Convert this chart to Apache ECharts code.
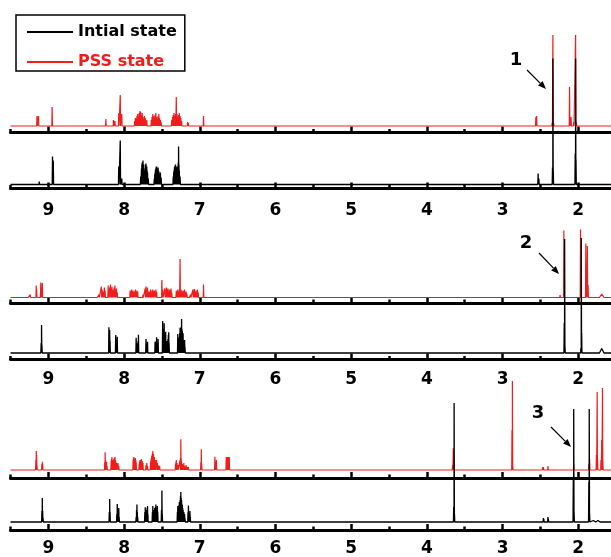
<!DOCTYPE html>
<html><head><meta charset="utf-8">
<script src="https://cdn.jsdelivr.net/npm/echarts@6/dist/echarts.min.js"></script>
<style>html,body{margin:0;padding:0;background:#fff}#c{width:611px;height:557px}</style>
</head><body><div id="c"></div>
<script>
// ---- data (ppm, intensity; optional 3rd value = half line width in ppm) ----
const TICKS = [2, 3, 4, 5, 6, 7, 8, 9];
const MINOR_TICKS = [1.5, 2.5, 3.5, 4.5, 5.5, 6.5, 7.5, 8.5, 9.5];
const SERIES_NAMES = ['Intial state', 'PSS state'];
const LABELS = ['1', '2', '3'];

const pss1 = [[9.15,10],[9.13,10],[8.95,19],[8.24,7],[8.14,6],[8.12,5],[8.07,13],[8.05,31],[8.03,12],
[7.86,5],[7.85,8],[7.84,7],[7.83,10],[7.82,12],[7.81,9],[7.80,13],[7.79,15],[7.78,14],[7.77,11],[7.76,13],[7.75,9],[7.74,7],[7.73,10],[7.72,8],[7.71,5],[7.70,6],
[7.64,6],[7.63,9],[7.62,12],[7.61,10],[7.60,8],[7.59,11],[7.58,13],[7.57,9],[7.56,7],[7.55,10],[7.54,12],[7.53,8],[7.52,6],[7.51,4],
[7.37,6],[7.36,9],[7.35,11],[7.34,13],[7.33,10],[7.32,12],[7.31,29],[7.30,12],[7.29,9],[7.28,11],[7.27,13],[7.26,10],[7.25,8],[7.24,5],
[7.16,4],[7.15,3],[6.95,10],[6.79,2],
[2.56,9],[2.55,10],[2.345,3],[2.335,91],[2.325,3],[2.115,39],[2.105,9],[2.095,9],[2.06,4],[2.035,91],[2.025,4]];

const initial1 = [[9.12,3],[8.945,28],[8.935,24],[8.07,18],[8.05,44],[8.03,6],
[7.78,8],[7.77,16],[7.765,20],[7.76,22],[7.755,18],[7.75,24],[7.745,19],[7.74,20],[7.735,14],[7.73,10],[7.725,14],[7.72,16],[7.715,20],[7.71,21],[7.705,17],[7.70,18],[7.695,14],[7.69,12],[7.68,6],
[7.60,6],[7.595,10],[7.59,12],[7.585,15],[7.58,16],[7.575,18],[7.57,18],[7.565,15],[7.56,14],[7.555,16],[7.55,17],[7.545,14],[7.54,13],[7.53,9],[7.52,12],[7.51,7],
[7.35,8],[7.345,12],[7.34,14],[7.335,17],[7.33,18],[7.325,19],[7.32,20],[7.315,17],[7.31,16],[7.305,17],[7.30,18],[7.295,16],[7.29,15],[7.285,22],[7.28,38],[7.275,20],[7.27,14],[7.26,8],
[6.76,2],
[2.53,11],[2.52,6],[2.34,17],[2.335,126],[2.33,15],[2.15,1.5,0.02],[2.04,31],[2.035,126],[2.03,25],[1.83,1.5,0.02]];

const pss2 = [[9.26,2],[9.24,3],[9.22,2],[9.16,12],[9.155,8],[9.10,15],[9.09,6],[9.08,14.5],
[8.30,11],[8.29,8],[8.28,5],[8.27,6],[8.26,10],[8.25,7],
[8.21,12],[8.20,8],[8.19,10],[8.18,13],[8.17,9],[8.16,11],[8.15,7],[8.14,8],[8.13,10],[8.12,12],[8.11,7],[8.10,9],[8.09,5],
[7.92,7],[7.91,5],[7.90,8],[7.89,6],[7.88,7],[7.86,6],[7.85,8],[7.84,5],[7.83,7],[7.82,6],
[7.72,9],[7.71,11],[7.70,7],[7.69,10],[7.68,6],
[7.66,6],[7.65,8],[7.64,5],[7.63,7],[7.62,8],[7.61,6],[7.60,7],[7.59,5],[7.58,8],[7.57,6],
[7.50,17.5],[7.49,8],[7.46,9],[7.45,7],[7.44,10],[7.43,8],[7.42,9],[7.41,6],[7.40,8],[7.39,7],[7.38,9],[7.37,5],
[7.31,7],[7.30,5],[7.29,8],[7.28,6],[7.27,7],[7.26,38.5],[7.25,8],[7.24,7],[7.23,5],[7.22,7],[7.21,6],[7.20,8],[7.19,5],[7.18,6],[7.17,4],
[7.09,8],[7.08,6],[7.07,8.5],[7.06,5],[7.05,7],[7.04,6],[7.03,8],[7.02,5],
[6.95,13],
[2.19,67],[2.185,8],[1.97,68],[1.965,6],[1.90,54],[1.89,20],[1.88,51.5],[1.87,12.5],[1.69,3.5,0.03]];

const pss2Noise = [[9.45,1],[9.38,1.5],[9.32,1],[9.02,1],[8.96,1.5],[8.90,1],[8.84,1.5],[8.77,1],[8.71,2],[8.64,1],[8.58,1.5],[8.52,1],[8.46,1.5],[8.41,1],[8.35,2],[8.33,3],
[8.02,2],[7.98,1.5],[7.95,2],[7.78,2],[7.75,3],[7.54,2],[7.35,2],[7.14,2],[7.12,3],[6.99,1.5],[6.90,1.5],[6.86,1],[6.81,2],[6.76,1],[6.70,1.5],[6.63,1],[6.58,2],[6.51,1],
[6.45,1.5],[6.39,1],[6.31,2],[6.24,1],[6.18,1.5],[6.09,1],[6.03,1.5],[5.97,1],[5.88,2],[5.81,1],[5.75,1.5],[5.66,1],[5.59,2],[5.53,1],[5.44,1.5],[5.36,1],[5.30,1.5],
[5.23,2],[5.15,1],[5.09,1.5],[5.03,1],[4.95,2],[4.86,1],[4.80,1.5],[4.74,1],[4.66,2],[4.57,1],[4.51,1.5],[4.45,1],[4.37,1.5],[4.30,2],[4.22,1],[4.16,1.5],[4.09,1],
[4.01,1.5],[3.95,1],[3.88,2],[3.80,1],[3.74,1.5],[3.67,1],[3.59,1.5],[3.52,2],[3.44,1],[3.38,1.5],[3.31,1],[3.24,2],[3.16,1],[3.10,1.5],[3.03,1],[2.96,1.5],[2.89,2],
[2.82,1],[2.75,1.5],[2.68,1],[2.61,2],[2.54,1],[2.47,1.5],[2.40,1],[2.33,1.5],[2.27,2],[2.24,2.5],[2.08,1],[2.04,1.5],[1.80,1.5],[1.75,1],[1.62,1],[1.57,1.5]];

const initial2 = [[9.35,1.5],[9.15,1.5],[9.095,10],[9.09,28],[9.085,8],
[8.20,25.7],[8.195,14],[8.19,23],[8.185,12],
[8.11,18],[8.105,12],[8.10,10],[8.095,14],[8.09,16.3],
[7.84,15.3],[7.835,10],[7.825,8],[7.815,12],[7.81,18.3],
[7.71,14],[7.705,9],[7.70,6],[7.695,9],[7.69,11.3],
[7.59,11.3],[7.585,7],[7.58,6],[7.575,12],[7.57,15.7],[7.56,8],[7.555,10],[7.55,14],
[7.49,32],[7.485,20],[7.48,14],[7.475,24],[7.47,29.7],[7.465,16],[7.46,18],[7.455,14],[7.45,21.3],[7.44,10],[7.43,12],[7.42,14],[7.415,18],[7.41,20.7],[7.405,10],
[7.29,19],[7.285,12],[7.28,10],[7.275,14],[7.27,16],[7.265,20],[7.26,25.3],[7.255,18],[7.25,20],[7.245,26],[7.24,34],[7.235,24],[7.23,22],[7.225,18],[7.22,19.7],[7.215,12],[7.21,10],[7.205,11],[7.20,13],[7.195,6],
[2.70,1],[2.66,1.5],[2.63,1],
[2.185,30],[2.18,114],[2.175,6],[1.965,5],[1.96,115],[1.955,20],[1.69,4.5,0.03]];

const pss3 = [[9.165,10],[9.16,19],[9.155,15],[9.15,5],[9.085,6],[9.08,8.3],[9.075,6],[8.78,1],
[8.255,8],[8.25,17.7],[8.245,10],[8.24,6],[8.235,5],[8.23,8.3],[8.225,4],
[8.17,9],[8.165,11],[8.16,13],[8.155,8],[8.15,10],[8.14,8],[8.135,11],[8.13,12],[8.12,13],[8.115,10],[8.11,9],[8.10,7],[8.08,7],[8.07,4],
[7.88,10],[7.875,12],[7.87,13],[7.865,9],[7.86,11],[7.855,8],[7.85,12],[7.845,10],[7.84,8],
[7.80,6],[7.795,8],[7.79,10],[7.785,7],[7.78,8],[7.775,10],[7.77,11],[7.765,7],[7.76,9],[7.75,7],
[7.71,5],[7.70,7],[7.69,4],
[7.65,8],[7.645,10],[7.64,12],[7.635,14],[7.63,15],[7.625,17],[7.62,19],[7.615,15],[7.61,16],[7.605,12],[7.60,13],[7.595,9],[7.59,10],
[7.57,10],[7.565,6],[7.56,7],[7.55,5],[7.53,4],
[7.32,6],[7.315,8],[7.31,10],[7.305,6],[7.30,7],[7.29,5],
[7.26,10],[7.255,12],[7.25,30.7],[7.245,11],[7.24,8],[7.235,6],
[7.23,6],[7.22,5],[7.21,7],[7.20,4],[7.19,3],[7.18,5],[7.17,3],[7.15,3],
[6.985,8],[6.98,20.7],[6.975,6],
[6.80,13.3],[6.795,8],[6.79,6],[6.785,8],[6.78,10],
[6.65,13],[6.645,13],[6.64,13],[6.625,13],[6.62,13],[6.615,13],[6.61,13],
[3.66,5],[3.65,21.7],[3.645,6],
[2.875,40],[2.87,89],[2.865,4],
[2.47,2.7],[2.46,3],[2.40,4],[2.06,6],
[1.86,6],[1.85,11],
[1.76,15],[1.75,78],[1.745,10],
[1.70,10],[1.69,30],[1.68,82],[1.675,8]];

const initial3 = [[9.085,11],[9.08,24],[9.075,11],[9.07,4],[8.78,1],
[8.195,10],[8.19,23],[8.185,10],
[8.095,8],[8.09,18],[8.085,10],[8.08,10],[8.075,12],[8.07,14],[8.065,5],
[7.84,5],[7.835,12],[7.83,17.5],[7.825,10],[7.82,5],
[7.725,10],[7.72,14.8],[7.715,10],[7.71,10],[7.705,12],[7.70,12],[7.695,14],[7.69,16],[7.685,8],
[7.625,10],[7.62,16],[7.615,12],[7.61,10],[7.605,12],[7.60,12],[7.595,14],[7.59,14],[7.585,15],[7.58,17.5],[7.575,14],[7.57,12],[7.565,13],[7.56,16],[7.555,10],
[7.505,12],[7.50,31.5],[7.495,8],
[7.295,10],[7.29,16],[7.285,12],[7.28,12],[7.275,17],[7.27,20],[7.265,18],[7.26,22],[7.255,26],[7.25,30],[7.245,24],[7.24,22],[7.235,18],[7.23,17],[7.225,14],[7.22,12],[7.215,9],[7.21,10],[7.205,7],[7.20,8],[7.195,4],
[7.155,10],[7.15,16.5],[7.145,8],[7.14,8],[7.135,9],[7.13,11],[7.125,5],
[6.93,1],
[3.645,15],[3.64,119],[3.635,8],
[2.46,4],[2.455,3],[2.40,5],[2.395,3],
[2.065,45],[2.06,113],[2.055,10],
[1.86,40],[1.855,113],[1.85,8],
[1.80,1.5,0.03],[1.74,1.5,0.03]];

// ---- build ----
const RED = '#f21c1c', BLACK = '#000';
const X_MIN = 1.5, X_MAX = 9.5;
function spectrum(peaks) {
  const s = peaks.slice().sort((a, b) => b[0] - a[0]);
  const pts = [[X_MAX, 0]];
  s.forEach(p => { const w = p[2] || 0.004; pts.push([p[0] + w, 0], [p[0], p[1]], [p[0] - w, 0]); });
  pts.push([X_MIN, 0]);
  return pts;
}
const spectra = [
  {data: pss1, name: SERIES_NAMES[1], color: RED},
  {data: initial1, name: SERIES_NAMES[0], color: BLACK},
  {data: pss2.concat(pss2Noise), name: SERIES_NAMES[1], color: RED},
  {data: initial2, name: SERIES_NAMES[0], color: BLACK},
  {data: pss3, name: SERIES_NAMES[1], color: RED},
  {data: initial3, name: SERIES_NAMES[0], color: BLACK}
];
const layout = [
  {axisY: 132.5, base: 126, top: 25},
  {axisY: 188.5, base: 184.5, top: 45, margin: 14},
  {axisY: 303, base: 297.5, top: 215},
  {axisY: 359.5, base: 353, top: 225, margin: 12},
  {axisY: 478, base: 470, top: 370},
  {axisY: 530, base: 522, top: 395, margin: 10}
];
const PX_PER_PPM = 75.7, LEFT = 10.5;
const grids = [], xAxes = [], yAxes = [], series = [];
layout.forEach((L, i) => {
  grids.push({left: LEFT, width: (X_MAX - X_MIN) * PX_PER_PPM, top: L.top, height: L.axisY - L.top,
    containLabel: false, outerBoundsMode: 'none'});
  const showLab = L.margin !== undefined;
  xAxes.push({gridIndex: i, type: 'value', inverse: true, min: X_MIN, max: X_MAX, position: 'bottom',
    axisLine: {onZero: false, lineStyle: {color: '#000', width: 3}},
    axisTick: {inside: true, length: 6, lineStyle: {color: '#000', width: 2.5}, customValues: TICKS},
    axisLabel: {show: showLab, customValues: TICKS, margin: L.margin || 8, fontFamily: 'DejaVu Sans', fontWeight: 'bold', fontSize: 17, color: '#000'},
    splitLine: {show: false}});
  xAxes.push({gridIndex: i, type: 'value', inverse: true, min: X_MIN, max: X_MAX, position: 'bottom',
    axisLine: {show: false, onZero: false},
    axisTick: {inside: true, length: 3.5, lineStyle: {color: '#000', width: 2.5}, customValues: MINOR_TICKS},
    axisLabel: {show: false}, splitLine: {show: false}});
  yAxes.push({gridIndex: i, type: 'value', show: false, min: -(L.axisY - L.base), max: L.base - L.top, splitLine: {show: false}});
  const sp = spectra[i];
  const isBlack = sp.color === BLACK;
  series.push({type: 'line', name: sp.name, xAxisIndex: 2 * i, yAxisIndex: i, data: spectrum(sp.data),
    symbol: 'none', showSymbol: false, clip: false, animation: false, z: isBlack ? 4 : 3,
    itemStyle: {color: sp.color}, lineStyle: {color: sp.color, width: isBlack ? 1.3 : 1.2}});
});

// annotations (number + arrow)
function arrow(x1, y1, x2, y2) {
  const dx = x2 - x1, dy = y2 - y1, L = Math.hypot(dx, dy), ux = dx / L, uy = dy / L;
  const hl = 8, hw = 3.2, bx = x2 - ux * hl, by = y2 - uy * hl;
  return [
    {type: 'line', shape: {x1, y1, x2: bx, y2: by}, style: {stroke: '#000', lineWidth: 1.2}, z: 10},
    {type: 'polygon', shape: {points: [[x2, y2], [bx - uy * hw, by + ux * hw], [bx + uy * hw, by - ux * hw]]}, style: {fill: '#000'}, z: 10}
  ];
}
const notes = [
  {t: LABELS[0], x: 516, y: 60, a: [527, 70, 546, 89]},
  {t: LABELS[1], x: 526, y: 243, a: [539, 253, 559, 274]},
  {t: LABELS[2], x: 538, y: 413, a: [551, 427, 571, 447]}
];
const graphic = [];
notes.forEach(n => {
  graphic.push({type: 'text', x: n.x, y: n.y, z: 10, style: {text: n.t, fontFamily: 'DejaVu Sans', fontWeight: 'bold', fontSize: 18, fill: '#000', align: 'center', verticalAlign: 'middle'}});
  arrow(...n.a).forEach(g => graphic.push(g));
});

const chart = echarts.init(document.getElementById('c'), null, {renderer: 'canvas'});
chart.setOption({
  animation: false,
  backgroundColor: '#fff',
  grid: grids, xAxis: xAxes, yAxis: yAxes, series: series, graphic: graphic,
  legend: {left: 16, top: 15, orient: 'vertical', padding: [8, 8, 0, 11], itemGap: 12, itemWidth: 46, itemHeight: 2,
    borderColor: '#000', borderWidth: 1.5, selectedMode: false,
    textStyle: {fontFamily: 'DejaVu Sans', fontWeight: 'bold', fontSize: 16, lineHeight: 18},
    data: [{name: SERIES_NAMES[0], icon: 'rect', textStyle: {color: BLACK}},
           {name: SERIES_NAMES[1], icon: 'rect', textStyle: {color: RED}}]}
});
</script></body></html>
